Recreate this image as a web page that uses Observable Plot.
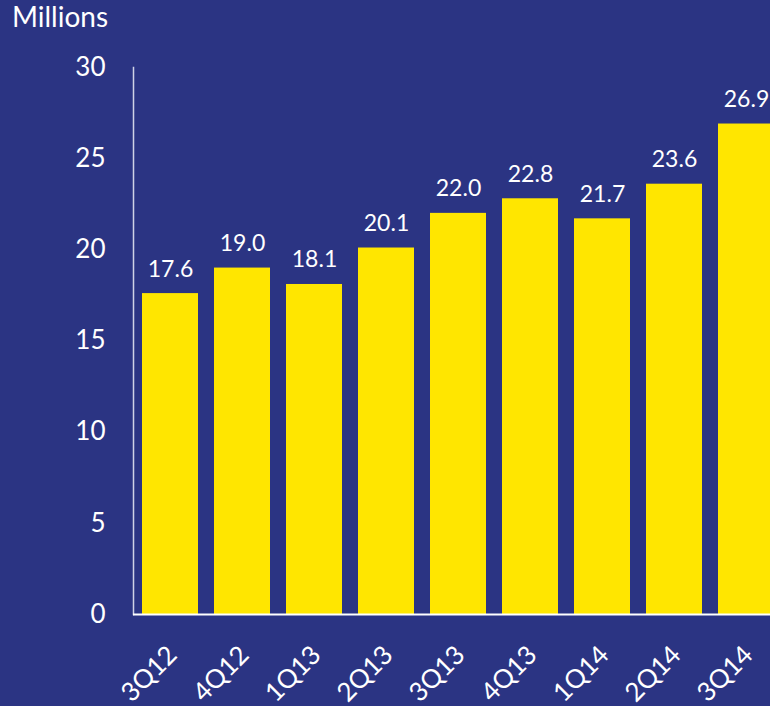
<!DOCTYPE html>
<html>
<head>
<meta charset="utf-8">
<script src="https://cdn.jsdelivr.net/npm/d3@7"></script>
<script src="https://cdn.jsdelivr.net/npm/@observablehq/plot@0.6"></script>
<style>
  html, body { margin: 0; padding: 0; background: #2B3483; overflow: hidden; width: 770px; height: 706px; }
  #wrap { position: relative; width: 770px; height: 706px; overflow: hidden; }
  #unit { position: absolute; left: 12px; top: 0px; font-family: Lato, sans-serif; font-size: 28px; color: #ffffff; line-height: 1.2; }
  svg { max-width: none !important; display: block; }
</style>
</head>
<body>
<div id="wrap">
  <div id="unit">Millions</div>
  <div id="chart"></div>
</div>
<script>
const quarters = ["3Q12", "4Q12", "1Q13", "2Q13", "3Q13", "4Q13", "1Q14", "2Q14", "3Q14"];
const values = [17.6, 19.0, 18.1, 20.1, 22.0, 22.8, 21.7, 23.6, 26.9];
const yTicks = [0, 5, 10, 15, 20, 25, 30];

const data = quarters.map((q, i) => ({quarter: q, value: values[i]}));

const chart = Plot.plot({
  width: 790,
  height: 706,
  marginTop: 67,
  marginBottom: 92,
  marginLeft: 133,
  marginRight: 7,
  style: {background: "#2B3483", color: "#ffffff", fontFamily: "Lato, sans-serif", overflow: "visible"},
  x: {domain: quarters, paddingInner: 0.22, paddingOuter: 0.08, axis: null},
  y: {domain: [0, 30], axis: null},
  marks: [
    Plot.barY(data, {x: "quarter", y: "value", fill: "#FFE600"}),
    Plot.frame({anchor: "left", stroke: "#cfd2e6", strokeWidth: 1.5}),
    Plot.ruleY([0], {stroke: "#ffffff", strokeWidth: 2}),
    Plot.axisY({ticks: yTicks, tickSize: 0, tickPadding: 28, fontSize: 26, fill: "#ffffff", label: null, tickFormat: d => String(d)}),
    Plot.text(data, {x: "quarter", y: "value", text: d => d.value.toFixed(1), lineAnchor: "bottom", dy: -17, fontSize: 23, fill: "#ffffff"}),
    Plot.text(data, {x: "quarter", frameAnchor: "bottom", text: "quarter", rotate: -45, textAnchor: "end", lineAnchor: "bottom", dx: 8, dy: 42, fontSize: 26, fill: "#ffffff"})
  ]
});
document.getElementById("chart").appendChild(chart);
</script>
</body>
</html>
